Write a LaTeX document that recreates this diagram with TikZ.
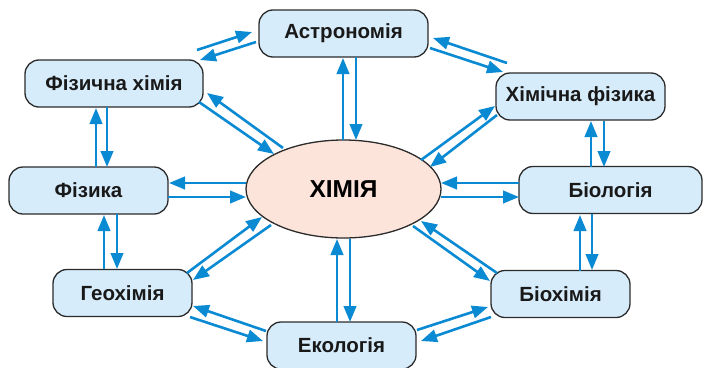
\documentclass[tikz,border=0pt]{standalone}
\usepackage{fontspec}
\setmainfont{Liberation Sans}
\usetikzlibrary{arrows.meta,calc,shapes.geometric}
\definecolor{boxfill}{HTML}{D6ECFA}
\definecolor{ellfill}{HTML}{FCE4DA}
\definecolor{arrblue}{HTML}{0A8AD2}
\definecolor{edge}{HTML}{2B2B2B}
\tikzset{
  field/.style={draw=edge, line width=1.3pt, fill=boxfill, rounded corners=14pt,
    minimum height=47pt, inner sep=0pt, text=black!90,
    font=\fontsize{20.5}{22}\selectfont\bfseries},
  core/.style={ellipse, draw=edge, line width=1.3pt, fill=ellfill,
    minimum width=195pt, minimum height=98pt, inner sep=0pt,
    font=\fontsize{24.5}{26}\selectfont\bfseries},
  arr/.style={draw=arrblue, line width=2.6pt, -{Triangle[length=16pt,width=12.5pt]}}
}
\newcommand{\link}[4]{\draw[arr] ($(#1)+(#2)$) -- ($(#3)+(#4)$);}
\begin{document}
\begin{tikzpicture}[x=1pt,y=1pt]
\useasboundingbox (0,0) rectangle (706,-367);
\node[core] (X) at (343.5,-189) {ХІМІЯ};
\node[field, minimum width=169pt] (A) at (343.5,-33.5) {Астрономія};
\node[field, minimum width=178pt] (F) at (114,-83.5) {Фізична хімія};
\node[field, minimum width=169pt] (H) at (580.5,-96.5) {Хімічна фізика};
\node[field, minimum width=159pt] (Z) at (88.5,-190.5) {Фізика};
\node[field, minimum width=183pt] (B) at (610.5,-190) {Біологія};
\node[field, minimum width=139pt] (G) at (122.5,-293) {Геохімія};
\node[field, minimum width=139pt] (C) at (560.5,-294) {Біохімія};
\node[field, minimum width=149pt] (E) at (341.5,-345.5) {Екологія};
% Фізична хімія <-> Астрономія
\link{F}{83,33.5}{A}{-91.5,1.5}
\link{A}{-87.5,-8.5}{F}{86,23.5}
% Фізична хімія <-> ХІМІЯ
\link{F}{85,-18.5}{X}{-69.5,35}
\link{X}{-60.5,41}{F}{93,-9.5}
% Фізика <-> Фізична хімія
\link{Z}{7.5,23.5}{F}{-18,-24.5}
\link{F}{-7,-23.5}{Z}{18.5,23.5}
% Астрономія <-> ХІМІЯ
\link{A}{12.5,-23.5}{X}{12.5,49}
\link{X}{-0.5,49}{A}{-0.5,-24.5}
% Астрономія <-> Хімічна фізика
\link{A}{86.5,-14.5}{H}{-77.5,24.5}
\link{H}{-73.5,33.5}{A}{89.5,-4.5}
% ХІМІЯ <-> Хімічна фізика
\link{X}{77.5,29}{H}{-85.5,-9.5}
\link{H}{-83.5,-18.5}{X}{86.5,22}
% Біологія <-> Хімічна фізика
\link{B}{-19.5,23}{H}{10.5,-24.5}
\link{H}{23.5,-24.5}{B}{-6.5,23}
% Фізика <-> ХІМІЯ
\link{Z}{79.5,-6.5}{X}{-97.5,-8}
\link{X}{-97.5,6}{Z}{80.5,7.5}
% ХІМІЯ <-> Біологія
\link{X}{97.5,-8}{B}{-91.5,-7}
\link{B}{-91.5,7}{X}{97.5,6}
% Геохімія <-> Фізика
\link{G}{-18.5,24}{Z}{15.5,-24.5}
\link{Z}{28.5,-23.5}{G}{-5.5,24}
% Геохімія <-> ХІМІЯ
\link{G}{64.5,20}{X}{-81.5,-28}
\link{X}{-72.5,-36}{G}{70.5,13}
% Екологія <-> Геохімія
\link{E}{-75.5,14.5}{G}{70.5,-13}
\link{G}{67.5,-24}{E}{-78.5,4.5}
% Біохімія <-> ХІМІЯ
\link{C}{-63.5,21}{X}{77.5,-32}
\link{X}{69.5,-37}{C}{-70.5,13}
% Біохімія <-> Біологія
\link{C}{19.5,23}{B}{-30.5,-25}
\link{B}{-18.5,-24}{C}{31.5,24}
% Екологія <-> Біохімія
\link{E}{75.5,15.5}{C}{-72.5,-13}
\link{C}{-69.5,-23}{E}{79.5,4.5}
% Екологія <-> ХІМІЯ
\link{E}{-4.5,23.5}{X}{-6.5,-50}
\link{X}{6.5,-50}{E}{8.5,23.5}
\end{tikzpicture}
\end{document}
